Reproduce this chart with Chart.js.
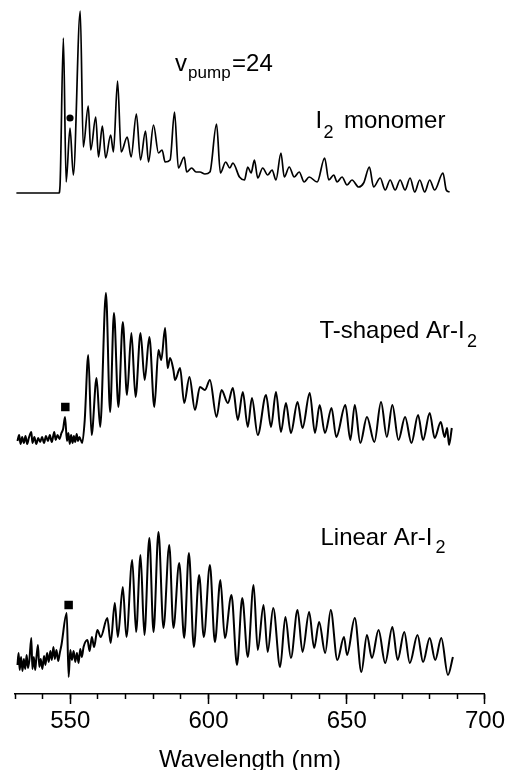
<!DOCTYPE html>
<html>
<head>
<meta charset="utf-8">
<script src="https://cdn.jsdelivr.net/npm/chart.js@4.4.0/dist/chart.umd.min.js"></script>
<style>
  html, body { margin: 0; padding: 0; background: #fff; }
  #wrap { width: 508px; height: 770px; position: relative; }
</style>
</head>
<body>
<div id="wrap"><canvas id="spectraChart"></canvas></div>
<script>
// Dispersed fluorescence, v_pump = 24
// wavelength (nm) and intensity (arb. units above each trace's own baseline)

// I2 monomer
var monoWl = [530.5, 545.9, 546.3, 547.5, 548.5, 549.9, 551.1, 553.6, 554.7, 556.5,
  557.4, 559.2, 560.2, 561.6, 562.8, 564.6, 565.6, 567.1, 568.4, 570.6,
  572.0, 573.9, 575.4, 577.2, 578.3, 580.1, 581.9, 583.2, 584.3, 586.1,
  587.7, 589.1, 591.2, 592.1, 593.9, 595.5, 596.9, 598.7, 600.5, 602.9,
  604.3, 606.2, 607.7, 608.8, 611.2, 613.0, 614.2, 615.4, 616.6, 617.8,
  619.6, 621.4, 623.0, 624.4, 626.2, 627.4, 629.2, 631.0, 632.8, 634.6,
  636.4, 639.3, 642.0, 643.5, 645.3, 646.5, 648.3, 650.1, 651.9, 654.3,
  656.1, 658.2, 659.7, 662.1, 663.9, 665.7, 667.5, 669.3, 671.1, 672.9,
  674.6, 676.4, 678.2, 680.0, 681.8, 684.8, 686.0, 687.2];
var monoInt = [0, 0, 8, 155, 11, 65, 18, 182, 46, 87,
  43, 76, 36, 67, 35, 58, 41, 112, 41, 56,
  36, 79, 33, 62, 31, 68, 40, 43, 31, 33,
  81, 25, 36, 21, 25, 21, 21, 19, 21, 69,
  20, 31, 25, 30, 16, 13, 26, 20, 33, 15,
  25, 18, 23, 13, 40, 16, 26, 16, 21, 11,
  16, 11, 35, 13, 18, 11, 16, 8, 13, 6,
  10, 26, 6, 15, 3, 13, 3, 13, 3, 15,
  1, 13, 1, 13, 3, 20, 3, 1];

// T-shaped Ar-I2
var tWl = [530.9, 531.5, 532.0, 532.6, 533.2, 533.8, 534.4, 535.0, 535.9, 536.3,
  537.0, 537.7, 538.4, 539.1, 539.8, 540.5, 541.2, 541.9, 542.6, 543.3,
  544.2, 544.7, 545.4, 546.1, 546.8, 547.4, 548.1, 548.8, 549.3, 549.8,
  550.3, 550.8, 551.3, 551.8, 552.3, 552.8, 553.3, 554.3, 555.2, 556.5,
  557.7, 559.5, 560.8, 562.9, 564.4, 565.8, 567.4, 569.0, 570.5, 572.1,
  573.6, 575.4, 576.9, 578.6, 580.4, 581.9, 582.9, 584.3, 585.2, 586.1,
  587.3, 587.9, 589.7, 591.2, 593.1, 595.1, 596.9, 598.7, 600.5, 602.9,
  604.7, 607.0, 608.8, 610.6, 612.4, 614.2, 615.7, 617.8, 620.8, 622.6,
  624.4, 626.2, 628.0, 629.8, 632.2, 634.0, 636.6, 638.5, 640.2, 642.1,
  644.5, 646.2, 649.5, 651.3, 652.9, 654.9, 657.3, 660.0, 662.4, 664.5,
  666.5, 668.7, 671.1, 673.4, 675.8, 677.6, 680.0, 681.8, 684.0, 685.4,
  686.3, 687.0, 688.0];
var tInt = [0, 6, -3, 4, -2, 5, -3, 3, 9, -2,
  4, -3, 3, -1, 4, -2, 5, 0, 6, -1,
  9, 1, 6, 2, 8, 12, 24, 0, 8, -3,
  6, -2, 5, -1, 7, 0, 4, -2, 20, 86,
  6, 63, 14, 148, 29, 128, 34, 119, 46, 108,
  44, 108, 61, 104, 34, 91, 81, 113, 73, 83,
  71, 61, 73, 38, 64, 31, 54, 51, 61, 24,
  51, 38, 53, 21, 49, 14, 43, 6, 46, 14,
  49, 9, 38, 8, 39, 13, 48, 8, 36, 8,
  33, 4, 36, 1, 36, -2, 24, -1, 39, 4,
  36, 1, 24, -2, 26, 1, 28, 3, 19, 4,
  13, -4, 13];

// Linear Ar-I2
var linWl = [530.9, 531.3, 531.7, 532.2, 532.7, 533.2, 533.7, 534.2, 534.7, 535.2,
  535.9, 536.3, 536.8, 537.3, 537.7, 538.3, 538.8, 539.3, 539.9, 540.5,
  541.0, 541.6, 542.2, 542.8, 543.3, 543.9, 544.4, 545.0, 545.6, 546.2,
  546.8, 548.7, 549.4, 550.0, 550.6, 551.2, 551.8, 552.4, 553.0, 553.6,
  554.2, 554.8, 556.2, 557.0, 557.8, 558.6, 559.8, 561.0, 563.4, 564.6,
  566.1, 567.2, 569.0, 570.3, 572.4, 573.8, 575.4, 576.8, 578.6, 580.1,
  581.9, 583.7, 585.8, 587.3, 589.4, 591.2, 592.9, 594.7, 596.6, 598.3,
  600.5, 602.3, 604.3, 605.9, 608.3, 610.3, 612.2, 614.2, 616.3, 617.8,
  619.9, 621.4, 623.4, 625.9, 627.8, 629.8, 632.2, 634.0, 636.4, 638.2,
  640.0, 642.2, 644.2, 646.6, 649.0, 650.1, 652.9, 655.3, 657.3, 659.1,
  661.5, 663.9, 666.5, 668.4, 670.8, 672.8, 675.6, 677.6, 680.0, 682.0,
  684.2, 686.6, 688.4];
var linInt = [0, 12, -5, 8, -6, 6, -4, 10, -3, 5,
  27, -4, 8, -5, 6, 20, -2, 6, -4, 9,
  0, 12, 3, 14, 5, 18, 6, 15, 4, 12,
  20, 52, -12, 15, 5, 14, 3, 12, 2, 16,
  8, 18, 25, 14, 28, 18, 35, 28, 47, 22,
  62, 28, 78, 28, 105, 33, 110, 30, 127, 33,
  133, 37, 120, 37, 102, 27, 112, 18, 90, 28,
  100, 23, 85, 27, 70, 0, 67, 8, 80, 15,
  60, 13, 57, -2, 48, 7, 55, 13, 53, 17,
  43, 12, 55, 5, 28, 10, 47, -7, 30, 7,
  35, 2, 38, 5, 33, 2, 30, 3, 27, 5,
  27, -10, 8];

// assignment markers: dot on the monomer, squares on the complexes
var monoMarkWl = [549.9], monoMarkInt = [75];
var cplxMarkWl = [548.2, 549.4], cplxMarkInt = [34, 60];

var majorTicks = [550, 600, 650, 700];
var minorTicks = [530, 540, 550, 560, 570, 580, 590, 600, 610, 620, 630, 640, 650, 660, 670, 680, 690, 700];

// vertical offsets of the three stacked traces
var monoBase = 501, tBase = 253, linBase = 29;

var FONT = '"Liberation Sans", Arial, Helvetica, sans-serif';

// trace labels, anchored in data coordinates
var textLabels = [
    { wl: 587.9, val: 623, parts: [
        { t: 'v', dx: 0, dy: 0, size: 24 },
        { t: 'pump', dx: 13, dy: 7, size: 17 },
        { t: '=24', dx: 57, dy: 0, size: 24 }] },
    { wl: 638.7, val: 566, parts: [
        { t: 'I', dx: 0, dy: 0, size: 24 },
        { t: '2', dx: 8, dy: 10, size: 18 },
        { t: 'monomer', dx: 28.5, dy: 0, size: 24 }] },
    { wl: 640.1, val: 356, parts: [
        { t: 'T-shaped Ar-I', dx: 0, dy: 0, size: 24 },
        { t: '2', dx: 147.5, dy: 8.5, size: 18 }] },
    { wl: 640.5, val: 149, parts: [
        { t: 'Linear Ar-I', dx: 0, dy: 0, size: 24 },
        { t: '2', dx: 115, dy: 7.5, size: 18 }] }
];

function toPoints(wl, vals, base) {
    return wl.map(function(w, i) {
        return { x: w, y: base + vals[i] };
    });
}

var labelPlugin = {
    id: 'traceLabels',
    afterDraw: function(chart) {
        var ctx = chart.ctx;
        var xs = chart.scales.x, ys = chart.scales.y;
        ctx.save();
        ctx.fillStyle = '#000';
        ctx.textBaseline = 'alphabetic';
        ctx.textAlign = 'left';
        textLabels.forEach(function(lab) {
            var x0 = xs.getPixelForValue(lab.wl);
            var y0 = ys.getPixelForValue(lab.val);
            lab.parts.forEach(function(p) {
                ctx.font = p.size + 'px ' + FONT;
                ctx.fillText(p.t, x0 + p.dx, y0 + p.dy);
            });
        });
        ctx.restore();
    }
};

Chart.defaults.font.family = FONT;
Chart.defaults.color = '#000';

var lineStyle = {
    showLine: true,
    borderColor: '#000',
    pointRadius: 0,
    fill: false,
    cubicInterpolationMode: 'monotone'
};

new Chart(document.getElementById('spectraChart'), {
    type: 'scatter',
    data: {
        datasets: [
            Object.assign({ label: 'I2 monomer', data: toPoints(monoWl, monoInt, monoBase),
                borderWidth: 1.7 }, lineStyle),
            Object.assign({ label: 'T-shaped Ar-I2', data: toPoints(tWl, tInt, tBase),
                borderWidth: 2 }, lineStyle),
            Object.assign({ label: 'Linear Ar-I2', data: toPoints(linWl, linInt, linBase),
                borderWidth: 2 }, lineStyle),
            {
                label: 'monomer marker',
                data: toPoints(monoMarkWl, monoMarkInt, monoBase),
                pointStyle: 'circle', pointRadius: 3.6,
                backgroundColor: '#000', borderWidth: 0
            },
            {
                label: 'complex markers',
                data: [
                    { x: cplxMarkWl[0], y: tBase + cplxMarkInt[0] },
                    { x: cplxMarkWl[1], y: linBase + cplxMarkInt[1] }
                ],
                pointStyle: 'rect', pointRadius: 6,
                backgroundColor: '#000', borderWidth: 0
            }
        ]
    },
    options: {
        responsive: true,
        maintainAspectRatio: false,
        animation: false,
        layout: { autoPadding: false, padding: { left: 15, right: 20.7, top: 0, bottom: 0 } },
        plugins: {
            legend: { display: false },
            tooltip: { enabled: false }
        },
        scales: {
            x: {
                type: 'linear',
                position: 'bottom',
                min: 530,
                max: 700,
                afterBuildTicks: function(axis) {
                    axis.ticks = majorTicks.map(function(v) { return { value: v }; });
                },
                afterFit: function(axis) { axis.height = 76; },
                ticks: {
                    autoSkip: false,
                    maxRotation: 0,
                    padding: 3,
                    color: '#000',
                    font: { size: 24 }
                },
                grid: {
                    drawOnChartArea: false,
                    drawTicks: true,
                    tickLength: 10,
                    tickWidth: 1.5,
                    tickColor: '#000'
                },
                border: { display: true, color: '#000', width: 1.5 },
                title: {
                    display: true,
                    text: 'Wavelength (nm)',
                    color: '#000',
                    font: { size: 24, lineHeight: 0.8 },
                    padding: 0
                }
            },
            xMinor: {
                type: 'linear',
                position: { y: 0 },
                min: 530,
                max: 700,
                afterBuildTicks: function(axis) {
                    axis.ticks = minorTicks.map(function(v) { return { value: v }; });
                },
                ticks: { display: false },
                grid: {
                    drawOnChartArea: false,
                    drawTicks: true,
                    tickLength: 5,
                    tickWidth: 1.5,
                    tickColor: '#000'
                },
                border: { display: false }
            },
            y: {
                display: false,
                min: 0,
                max: 694
            }
        }
    },
    plugins: [labelPlugin]
});
</script>
</body>
</html>
